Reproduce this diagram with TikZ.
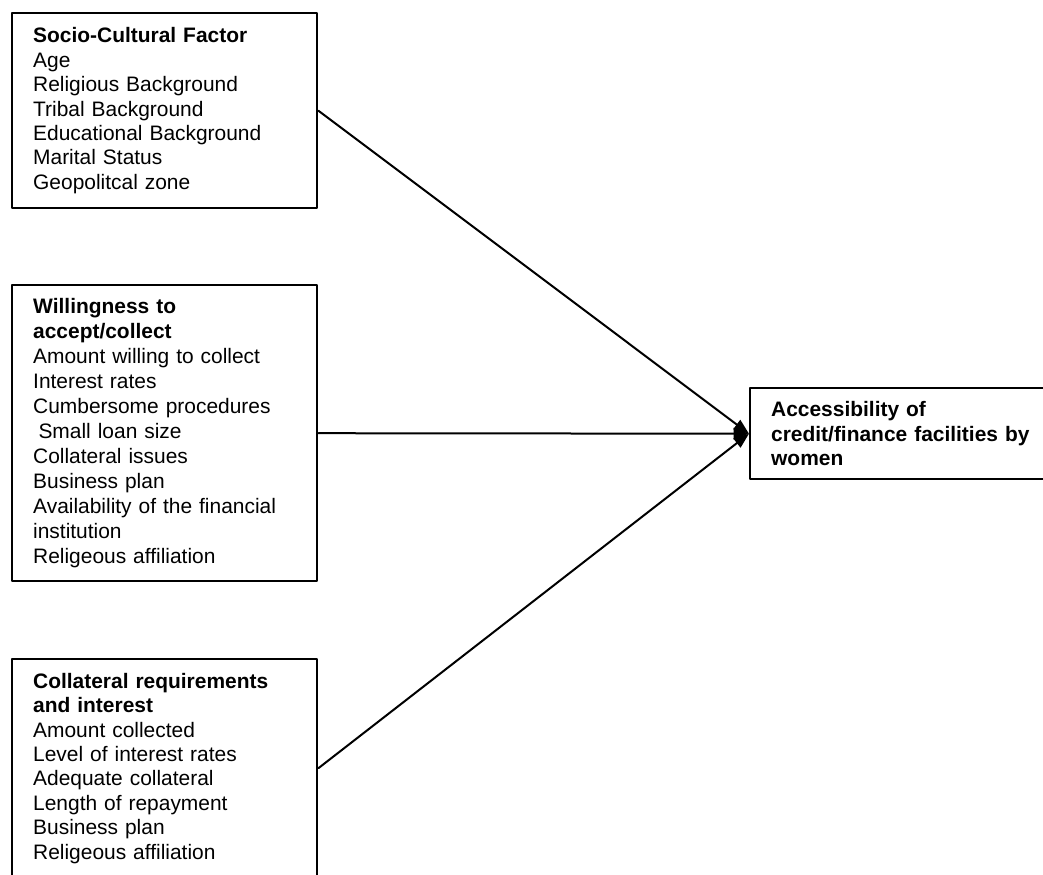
\documentclass[tikz,border=0pt]{standalone}
\usepackage{fontspec}
\setmainfont{Liberation Sans}
\usetikzlibrary{arrows.meta}

\tikzset{
  factor/.style={draw, line width=1.8pt, anchor=north west, text width=197.25pt,
    inner xsep=15.75pt, inner ysep=0pt, align=left,
    font=\fontsize{15.7}{18.3}\selectfont},
  link/.style={line width=1.5pt, -{Triangle[length=11.5pt,width=8.5pt]}}
}

\begin{document}
\begin{tikzpicture}[x=0.75pt, y=-0.75pt, line cap=round, line join=round]
	\useasboundingbox (0,0) rectangle (1043,875);

	% --- 1. FACTOR BOXES ---
	\node[factor, minimum height=146.25pt] (socio) at (11,12) {
		\textbf{Socio-Cultural Factor}\\
		Age\\
		Religious Background\\
		Tribal Background\\
		Educational Background\\
		Marital Status\\
		Geopolitcal zone};

	\node[factor, minimum height=222pt, font=\fontsize{15.7}{18.7}\selectfont] (will) at (11,284) {
		\textbf{Willingness to}\\
		\textbf{accept/collect}\\
		Amount willing to collect\\
		Interest rates\\
		Cumbersome procedures\\
		\hspace*{4pt}Small loan size\\
		Collateral issues\\
		Business plan\\
		Availability of the financial\\
		institution\\
		Religeous affiliation};

	\node[factor, minimum height=163.5pt] (coll) at (11,658) {
		\textbf{Collateral requirements}\\
		\textbf{and interest}\\
		Amount collected\\
		Level of interest rates\\
		Adequate collateral\\
		Length of repayment\\
		Business plan\\
		Religeous affiliation};

	% --- 2. OUTCOME BOX ---
	\node[factor, minimum height=68.25pt, font=\bfseries\fontsize{15.7}{18.3}\selectfont] (access) at (749,387) {
		Accessibility of\\
		credit/finance facilities by\\
		women};

	% --- 3. ARROWS ---
	\draw[link] (socio.east) -- (access.west);
	\draw[link] (will.east) -- (access.west);
	\draw[link] (coll.east) -- (access.west);
\end{tikzpicture}
\end{document}
